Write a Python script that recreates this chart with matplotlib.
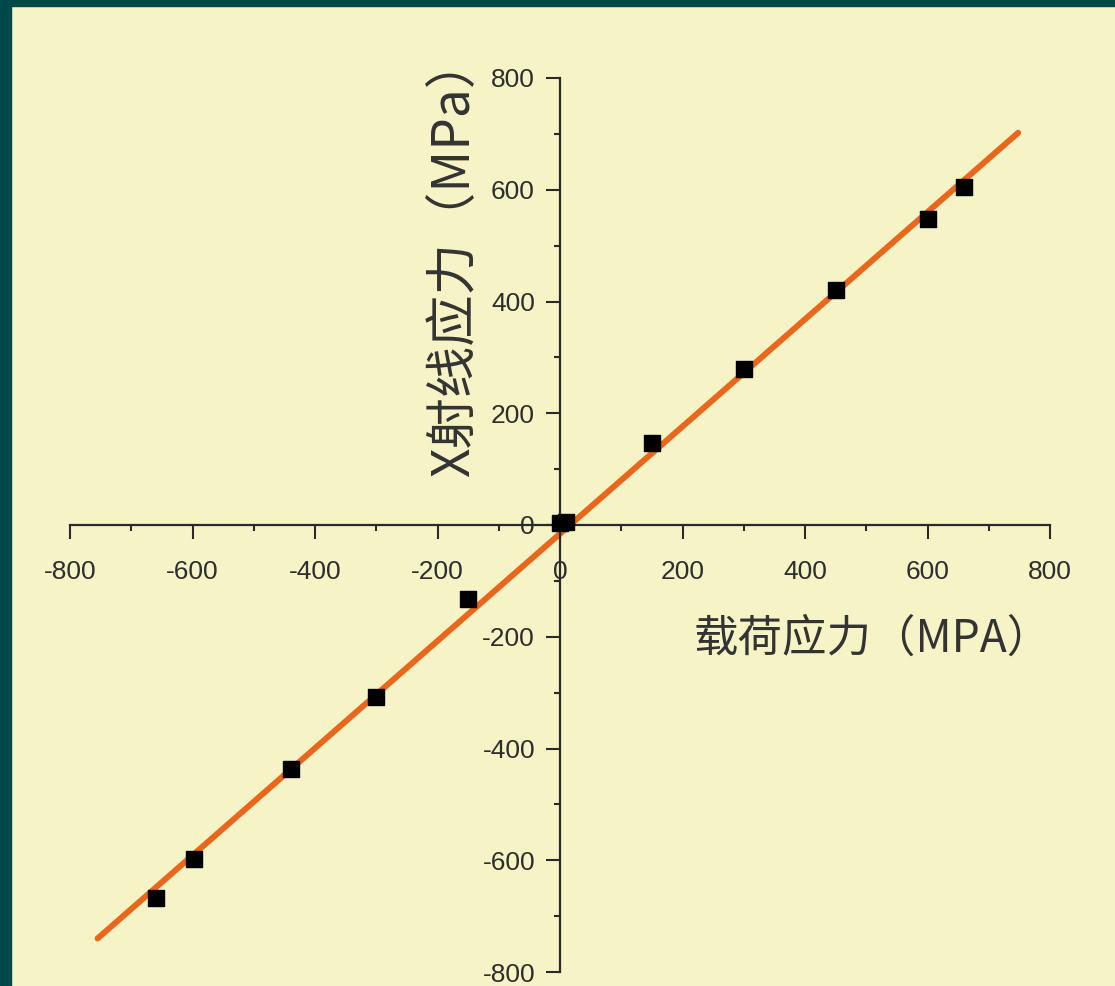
import matplotlib.pyplot as plt
from matplotlib.patches import Rectangle
from matplotlib.ticker import MultipleLocator

# 载荷应力 vs X射线应力 (MPa)
load_stress = [-660, -598, -440, -300, -150, 0, 10, 150, 300, 450, 600, 660]
xray_stress = [-668, -597, -437, -307, -132, 3, 6, 146, 279, 421, 548, 605]

# linear fit end points
fit_x = [-755, 748]
fit_y = [-740, 702]

ticks = [-800, -600, -400, -200, 0, 200, 400, 600, 800]

bg = '#f6f4c6'
frame = '#00474a'
ink = '#2a2a2a'

fig = plt.figure(figsize=(11.15, 9.86), dpi=100, facecolor=bg)

# dark frame along top and left edge
fig.patches.append(Rectangle((0, 0), 11 / 1115, 1, transform=fig.transFigure,
                             color=frame, zorder=0))
fig.patches.append(Rectangle((0, 1 - 6 / 986), 1, 6 / 986, transform=fig.transFigure,
                             color=frame, zorder=0))

ax = fig.add_axes([70 / 1115, 14 / 986, 980 / 1115, 894 / 986])
ax.set_facecolor(bg)

ax.plot(fit_x, fit_y, color='#e8671c', linewidth=4.3, solid_capstyle='round', zorder=2)
ax.scatter(load_stress, xray_stress, marker='s', s=120, color='black', zorder=3)

ax.set_xlim(-800, 800)
ax.set_ylim(-800, 800)
ax.spines['left'].set_position(('data', 0))
ax.spines['bottom'].set_position(('data', 0))
ax.spines['top'].set_visible(False)
ax.spines['right'].set_visible(False)
for s in ['left', 'bottom']:
    ax.spines[s].set_linewidth(1.6)
    ax.spines[s].set_color(ink)

ax.set_xticks(ticks)
ax.set_yticks(ticks)
ax.set_xticklabels([str(t) for t in ticks])
ax.set_yticklabels([str(t) for t in ticks])
ax.xaxis.set_minor_locator(MultipleLocator(100))
ax.yaxis.set_minor_locator(MultipleLocator(100))
ax.tick_params(which='major', direction='out', length=10, width=1.5, color=ink,
               labelsize=19, labelcolor='#2e2e2e')
ax.tick_params(which='minor', direction='out', length=4.5, width=1.5, color=ink)
ax.tick_params(axis='x', pad=15)
ax.tick_params(axis='y', pad=8)
for lab in ax.get_xticklabels() + ax.get_yticklabels():
    lab.set_fontfamily('Liberation Sans')

cjk = ['Noto Sans CJK SC', 'DejaVu Sans']
ax.text(510, -204, '载荷应力（MPA）', fontsize=32, color='#333333',
        family=cjk, ha='center', va='center')
ax.text(-172, 480, 'X射线应力（MPa）', fontsize=37, color='#333333',
        family=cjk, ha='center', va='center', rotation=90)

fig.savefig('out.png', dpi=100, facecolor=bg)
